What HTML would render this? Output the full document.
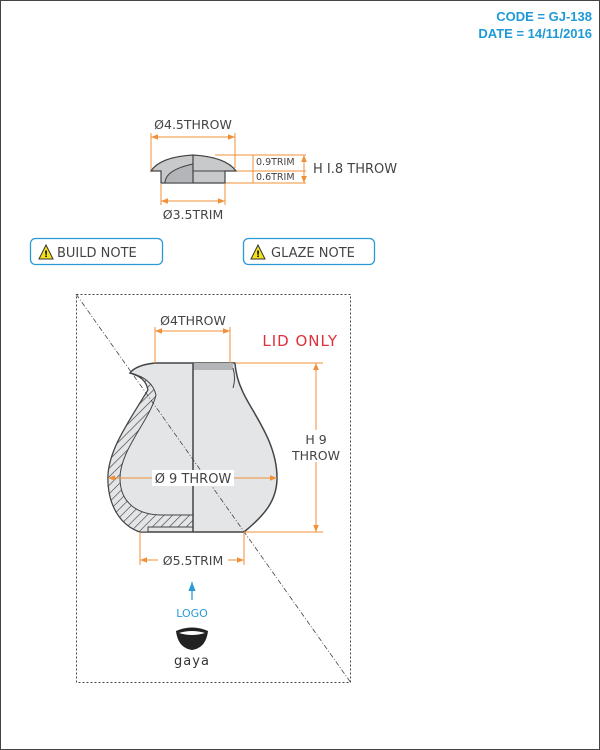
<!DOCTYPE html>
<html><head><meta charset="utf-8"><style>
html,body{margin:0;padding:0;background:#fff}
svg{display:block;font-family:"DejaVu Sans","Liberation Sans",sans-serif}
</style></head><body>
<svg width="600" height="750" viewBox="0 0 600 750" xmlns="http://www.w3.org/2000/svg">
<defs>
<pattern id="h" width="6" height="6" patternUnits="userSpaceOnUse" patternTransform="rotate(45)">
<rect width="6" height="6" fill="#e4e5e7"/><line x1="0" y1="0" x2="0" y2="6" stroke="#333" stroke-width="1.2"/>
</pattern>
<marker id="a" viewBox="0 0 10 10" refX="10" refY="5" markerWidth="7" markerHeight="7" orient="auto-start-reverse"><path d="M0,1 L10,5 L0,9 z" fill="#f0913a"/></marker>
<marker id="b" viewBox="0 0 10 10" refX="10" refY="5" markerWidth="7" markerHeight="7" orient="auto"><path d="M0,1 L10,5 L0,9 z" fill="#2a9ad6"/></marker>
</defs>
<rect x="0.5" y="0.5" width="599" height="749" fill="#fff" stroke="#444"/>
<text x="592" y="21" text-anchor="end" font-family="Liberation Sans,sans-serif" font-weight="bold" font-size="13" fill="#1e9ad6">CODE = GJ-138</text>
<text x="592" y="38" text-anchor="end" font-family="Liberation Sans,sans-serif" font-weight="bold" font-size="13" fill="#1e9ad6">DATE = 14/11/2016</text>

<!-- Lid -->
<g stroke="#f0913a" stroke-width="1" fill="none">
<line x1="151" y1="133" x2="151" y2="170"/><line x1="235" y1="133" x2="235" y2="168"/>
<line x1="151" y1="137" x2="235" y2="137" marker-start="url(#a)" marker-end="url(#a)"/>
<line x1="161" y1="184" x2="161" y2="205"/><line x1="225" y1="184" x2="225" y2="205"/>
<line x1="161" y1="201" x2="225" y2="201" marker-start="url(#a)" marker-end="url(#a)"/>
<line x1="215" y1="155" x2="306" y2="155"/><line x1="236" y1="171" x2="306" y2="171"/><line x1="225" y1="183" x2="306" y2="183"/>
<line x1="253" y1="155" x2="253" y2="183"/>
<line x1="304" y1="169" x2="304" y2="155" marker-end="url(#a)"/><line x1="304" y1="169" x2="304" y2="183" marker-end="url(#a)"/>
</g>
<path d="M151,171 Q160,157 193,155 Q226,157 236,171 L225,171 L225,183 L161,183 L161,171 Z" fill="#c8c9cb" stroke="#444" stroke-width="1.2"/>
<path d="M165,183 Q165,170 193,164 L193,183 Z" fill="#b4b5b8" stroke="#444"/>
<line x1="193" y1="155" x2="193" y2="183" stroke="#444" stroke-width="1.2"/>
<line x1="193" y1="171" x2="225" y2="171" stroke="#444"/>
<text x="193" y="129" text-anchor="middle" font-size="12.5" fill="#444">Ø4.5THROW</text>
<text x="193" y="219" text-anchor="middle" font-size="12.5" fill="#444">Ø3.5TRIM</text>
<text x="256" y="165" font-size="9.5" fill="#444">0.9TRIM</text>
<text x="256" y="180" font-size="9.5" fill="#444">0.6TRIM</text>
<text x="313" y="173" font-size="13" fill="#444">H I.8 THROW</text>

<!-- notes -->
<rect x="30.5" y="238.5" width="132" height="26" rx="5" fill="#fff" stroke="#2a9ad6" stroke-width="1.3"/>
<path d="M39,259 L46,245 L53,259 Z" fill="#f5e11a" stroke="#333"/><text x="46" y="257" text-anchor="middle" font-size="9" font-weight="bold">!</text>
<text x="57" y="257" font-size="13" fill="#444">BUILD NOTE</text>
<rect x="243.5" y="238.5" width="131" height="26" rx="5" fill="#fff" stroke="#2a9ad6" stroke-width="1.3"/>
<path d="M251,259 L258,245 L265,259 Z" fill="#f5e11a" stroke="#333"/><text x="258" y="257" text-anchor="middle" font-size="9" font-weight="bold">!</text>
<text x="271" y="257" font-size="13" fill="#444">GLAZE NOTE</text>

<!-- main box -->
<rect x="76.5" y="294.5" width="274" height="388" fill="none" stroke="#444" stroke-dasharray="2,2"/>

<!-- pot -->
<path d="M193,363 L155,363 Q136,365 130,373 Q146,377 148,390 C130,420 108,450 108,478 C108,505 120,525 140,532 L244,532 C265,515 277,500 277,478 C277,440 250,410 242,390 Q236,377 235,363 Z" fill="#e4e5e7" stroke="#444" stroke-width="1.5"/>
<path d="M130,373 Q146,377 148,390 C130,420 108,450 108,478 C108,505 120,525 140,532 L148,532 L148,527 L193,527 L193,515 L162,515 C140,515 120,505 120,478 C120,450 150,420 156,395 Q152,378 130,373 Z" fill="url(#h)" stroke="#444"/>
<rect x="193" y="363" width="40" height="7" fill="#b4b5b8"/>
<line x1="193" y1="363" x2="193" y2="532" stroke="#444" stroke-width="1.5"/>
<path d="M233,368 Q236,378 233,388" fill="none" stroke="#444"/>
<line x1="76" y1="294" x2="351" y2="683" stroke="#444" stroke-width="0.8" stroke-dasharray="5,2,1,2"/>

<g stroke="#f0913a" stroke-width="1" fill="none">
<line x1="155" y1="327" x2="155" y2="363"/><line x1="230" y1="327" x2="230" y2="363"/>
<line x1="155" y1="331" x2="230" y2="331" marker-start="url(#a)" marker-end="url(#a)"/>
<line x1="235" y1="363" x2="323" y2="363"/><line x1="244" y1="532" x2="323" y2="532"/>
<line x1="316" y1="363" x2="316" y2="532" marker-start="url(#a)" marker-end="url(#a)"/>
<line x1="108" y1="478" x2="277" y2="478" marker-start="url(#a)" marker-end="url(#a)"/>
<line x1="140" y1="532" x2="140" y2="565"/><line x1="244" y1="532" x2="244" y2="565"/>
<line x1="140" y1="560" x2="244" y2="560" marker-start="url(#a)" marker-end="url(#a)"/>
</g>
<text x="193" y="325" text-anchor="middle" font-size="12.5" fill="#444">Ø4THROW</text>
<text x="338" y="346" text-anchor="end" font-size="15" fill="#e0303a" letter-spacing="1">LID ONLY</text>
<rect x="296" y="430" width="40" height="32" fill="#fff"/>
<text x="316" y="444" text-anchor="middle" font-size="12.5" fill="#444">H 9</text>
<text x="316" y="460" text-anchor="middle" font-size="12.5" fill="#444">THROW</text>
<rect x="152" y="470" width="82" height="16" fill="#fff"/>
<text x="193" y="483" text-anchor="middle" font-size="13" fill="#444">Ø 9 THROW</text>
<rect x="158" y="552" width="70" height="16" fill="#fff"/>
<text x="193" y="565" text-anchor="middle" font-size="12.5" fill="#444">Ø5.5TRIM</text>

<!-- logo -->
<line x1="192" y1="600" x2="192" y2="582" stroke="#2a9ad6" stroke-width="1.3" marker-end="url(#b)"/>
<text x="192" y="617" text-anchor="middle" font-size="11" fill="#2a9ad6">LOGO</text>
<path d="M176,631 Q192,624 208,631 Q206,648 192,650 Q178,648 176,631 Z" fill="#222"/>
<path d="M179,633 Q192,629 205,633 Q192,637 179,633 Z" fill="#fff"/>
<text x="192" y="665" text-anchor="middle" font-size="13" fill="#333" letter-spacing="1">gaya</text>
</svg>
</body></html>
